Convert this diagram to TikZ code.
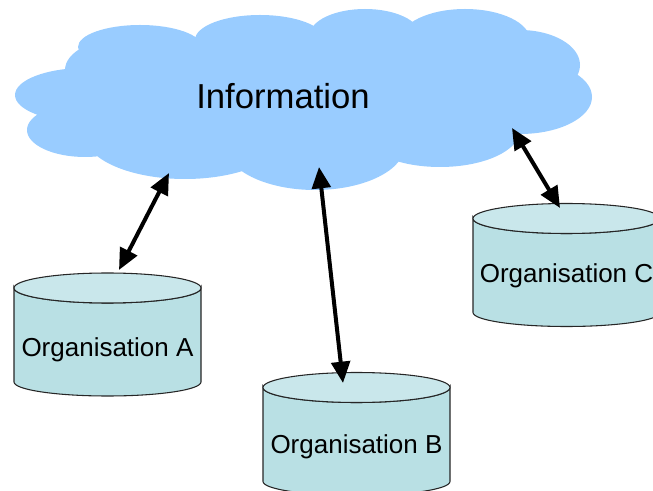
\documentclass[tikz,border=0pt]{standalone}
\usepackage{fontspec}
\setmainfont{Liberation Sans}
\usepackage{tikz}
\usetikzlibrary{arrows.meta,positioning}

\definecolor{cloudblue}{HTML}{99CCFF}
\definecolor{dbbody}{HTML}{B9E0E4}
\definecolor{dbtop}{HTML}{C9E7EB}

\begin{document}
\begin{tikzpicture}[
    x=0.75pt,y=0.75pt,
    cloudpart/.style={fill=cloudblue,draw=none},
    dbside/.style={draw=black!85,line width=0.8pt,fill=dbbody},
    dblid/.style={draw=black!85,line width=0.8pt,fill=dbtop},
    orglabel/.style={font=\fontsize{19.5}{23}\selectfont,inner sep=0pt,anchor=base},
    link/.style={{Triangle[length=16pt,width=14pt]}-{Triangle[length=16pt,width=14pt]},line width=3pt}
]
    \useasboundingbox (0,0) rectangle (653,-491);
    \clip (0,0) rectangle (653,-491);

    % Cloud
    \path[cloudpart] (310,-95) ellipse[x radius=220,y radius=60]
        (85,-95) ellipse[x radius=70,y radius=27]
        (85,-130) ellipse[x radius=58,y radius=27]
        (125,-70) ellipse[x radius=60,y radius=32]
        (140,-47) ellipse[x radius=62,y radius=22]
        (260,-40) ellipse[x radius=65,y radius=25]
        (365,-35) ellipse[x radius=55,y radius=26]
        (465,-40) ellipse[x radius=65,y radius=31]
        (520,-65) ellipse[x radius=60,y radius=35]
        (520,-97) ellipse[x radius=72,y radius=37]
        (440,-130) ellipse[x radius=80,y radius=37]
        (315,-145) ellipse[x radius=90,y radius=45]
        (185,-135) ellipse[x radius=100,y radius=44];
    \node[font=\fontsize{26}{30}\selectfont,inner sep=0pt,anchor=base] (info) at (283,-109) {Information};

    % Organisation A
    \draw[dbside] (14,-288) -- (14,-382) arc[start angle=180,end angle=360,x radius=93.5,y radius=14]
        -- (201,-288) arc[start angle=0,end angle=-180,x radius=93.5,y radius=15] -- cycle;
    \draw[dblid] (107.5,-288) ellipse[x radius=93.5,y radius=15];
    \node[orglabel] (orgA) at (107.5,-357) {Organisation A};

    % Organisation B
    \draw[dbside] (263,-387.5) -- (263,-481.5) arc[start angle=180,end angle=360,x radius=93.5,y radius=14]
        -- (450,-387.5) arc[start angle=0,end angle=-180,x radius=93.5,y radius=15] -- cycle;
    \draw[dblid] (356.5,-387.5) ellipse[x radius=93.5,y radius=15];
    \node[orglabel] (orgB) at (356.5,-453) {Organisation B};

    % Organisation C
    \draw[dbside] (473,-218.5) -- (473,-312.5) arc[start angle=180,end angle=360,x radius=93.5,y radius=14]
        -- (660,-218.5) arc[start angle=0,end angle=-180,x radius=93.5,y radius=15] -- cycle;
    \draw[dblid] (566.5,-218.5) ellipse[x radius=93.5,y radius=15];
    \node[orglabel] (orgC) at (566.5,-283) {Organisation C};

    % Links
    \coordinate (infoA) at (169,-173);
    \coordinate (topA) at (119,-270);
    \draw[link] (infoA) -- (topA);

    \coordinate (infoB) at (319,-167);
    \coordinate (topB) at (343,-383);
    \draw[link] (infoB) -- (topB);

    \coordinate (infoC) at (512,-128);
    \coordinate (topC) at (560,-208);
    \draw[link] (infoC) -- (topC);
\end{tikzpicture}
\end{document}
